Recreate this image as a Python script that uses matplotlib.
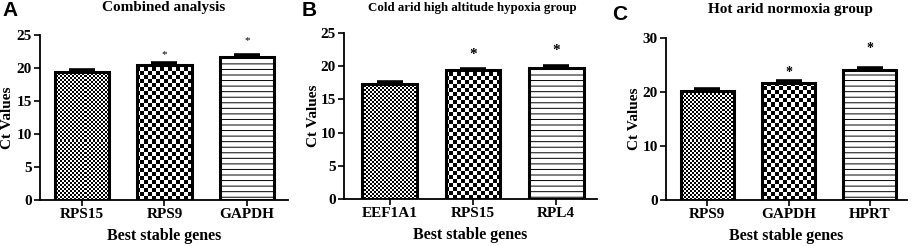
import numpy as np
import matplotlib
matplotlib.use('Agg')
import matplotlib.pyplot as plt

plt.rcParams['font.family'] = 'Liberation Serif'
plt.rcParams['font.weight'] = 'bold'
plt.rcParams['axes.labelweight'] = 'bold'
plt.rcParams['hatch.linewidth'] = 0.7

# data
genes_a = ['RPS15', 'RPS9', 'GAPDH']
ct_a = [19.35, 20.4, 21.7]
err_a = [0.3, 0.3, 0.3]
star_a = [None, 22.1, 24.2]

genes_b = ['EEF1A1', 'RPS15', 'RPL4']
ct_b = [17.3, 19.4, 19.8]
err_b = [0.3, 0.2, 0.3]
star_b = [None, 21.7, 22.4]

genes_c = ['RPS9', 'GAPDH', 'HPRT']
ct_c = [20.2, 21.6, 24.1]
err_c = [0.35, 0.35, 0.4]
star_c = [None, 23.7, 28.1]

W, H = 913, 246
fig = plt.figure(figsize=(W / 100, H / 100), dpi=100)


def checker(ax, cell):
    # black/white checkerboard in pixel cells, covering the whole axes
    bb = ax.get_position()
    nx = int(round(bb.width * W / cell))
    ny = int(round(bb.height * H / cell))
    arr = np.indices((ny, nx)).sum(axis=0) % 2
    im = ax.imshow(arr, cmap='gray', extent=(0, 1, 0, 1), transform=ax.transAxes,
                   aspect='auto', interpolation='nearest', zorder=2.5)
    return im


def panel(rect, genes, vals, errs, stars, ymax, step, xlim, title, tsize,
          letter, letter_xy, title_xy, ylab_x, star_size, star_weight):
    ax = fig.add_axes(rect)
    x = np.arange(len(genes))
    width = 0.66
    fill = ax.bar(x, vals, width, color='white', linewidth=0, zorder=2)
    edge = ax.bar(x, vals, width, facecolor='none', edgecolor='black',
                  linewidth=2.2, zorder=3)
    edge[2].set_hatch('---')

    im1 = checker(ax, 2)
    im1.set_clip_path(fill[0])
    im2 = checker(ax, 4)
    im2.set_clip_path(fill[1])

    ax.errorbar(x, vals, yerr=[np.zeros(len(vals)), errs], fmt='none',
                ecolor='black', elinewidth=2, capsize=9.5, capthick=2.6, zorder=4)

    for xi, s in zip(x, stars):
        if s is not None:
            ax.text(xi, s, '*', ha='center', va='center', fontsize=star_size,
                    fontweight=star_weight)

    ax.set_xlim(*xlim)
    ax.set_ylim(0, ymax)
    ax.set_yticks(np.arange(0, ymax + 1, step))
    ax.set_xticks(x)
    ax.set_xticklabels(genes)
    ax.spines['top'].set_visible(False)
    ax.spines['right'].set_visible(False)
    ax.spines['left'].set_linewidth(1.3)
    ax.spines['bottom'].set_linewidth(1.3)
    ax.tick_params(axis='both', length=4, width=1.2, labelsize=11, pad=2)

    ax.set_xlabel('Best stable genes', fontsize=11.5)
    ax.xaxis.set_label_coords(0.5, -0.17)
    ax.set_ylabel('Ct Values', fontsize=11)
    ax.yaxis.set_label_coords(ylab_x, 0.5)

    fig.text(title_xy[0] / W, 1 - title_xy[1] / H, title, ha='center', va='center',
             fontsize=tsize)
    fig.text(letter_xy[0] / W, 1 - letter_xy[1] / H, letter, ha='left', va='center',
             fontsize=15, family='Liberation Sans', fontweight='bold')
    return ax


panel([40 / W, 46 / H, 248 / W, 165 / H], genes_a, ct_a, err_a, star_a, 25, 5,
      (-0.51, 2.5), 'Combined analysis', 11, 'A', (2, 11), (164, 8), -0.105,
      8, 'normal')
panel([344 / W, 47 / H, 253 / W, 166 / H], genes_b, ct_b, err_b, star_b, 25, 5,
      (-0.55, 2.49), 'Cold arid high altitude hypoxia group', 9.3, 'B', (302, 11),
      (472, 8), -0.095, 11, 'bold')
panel([666 / W, 46 / H, 241 / W, 162 / H], genes_c, ct_c, err_c, star_c, 30, 10,
      (-0.51, 2.46), 'Hot arid normoxia group', 11, 'C', (612, 14), (790, 10),
      -0.105, 10, 'bold')

fig.savefig('out.png', dpi=100)
